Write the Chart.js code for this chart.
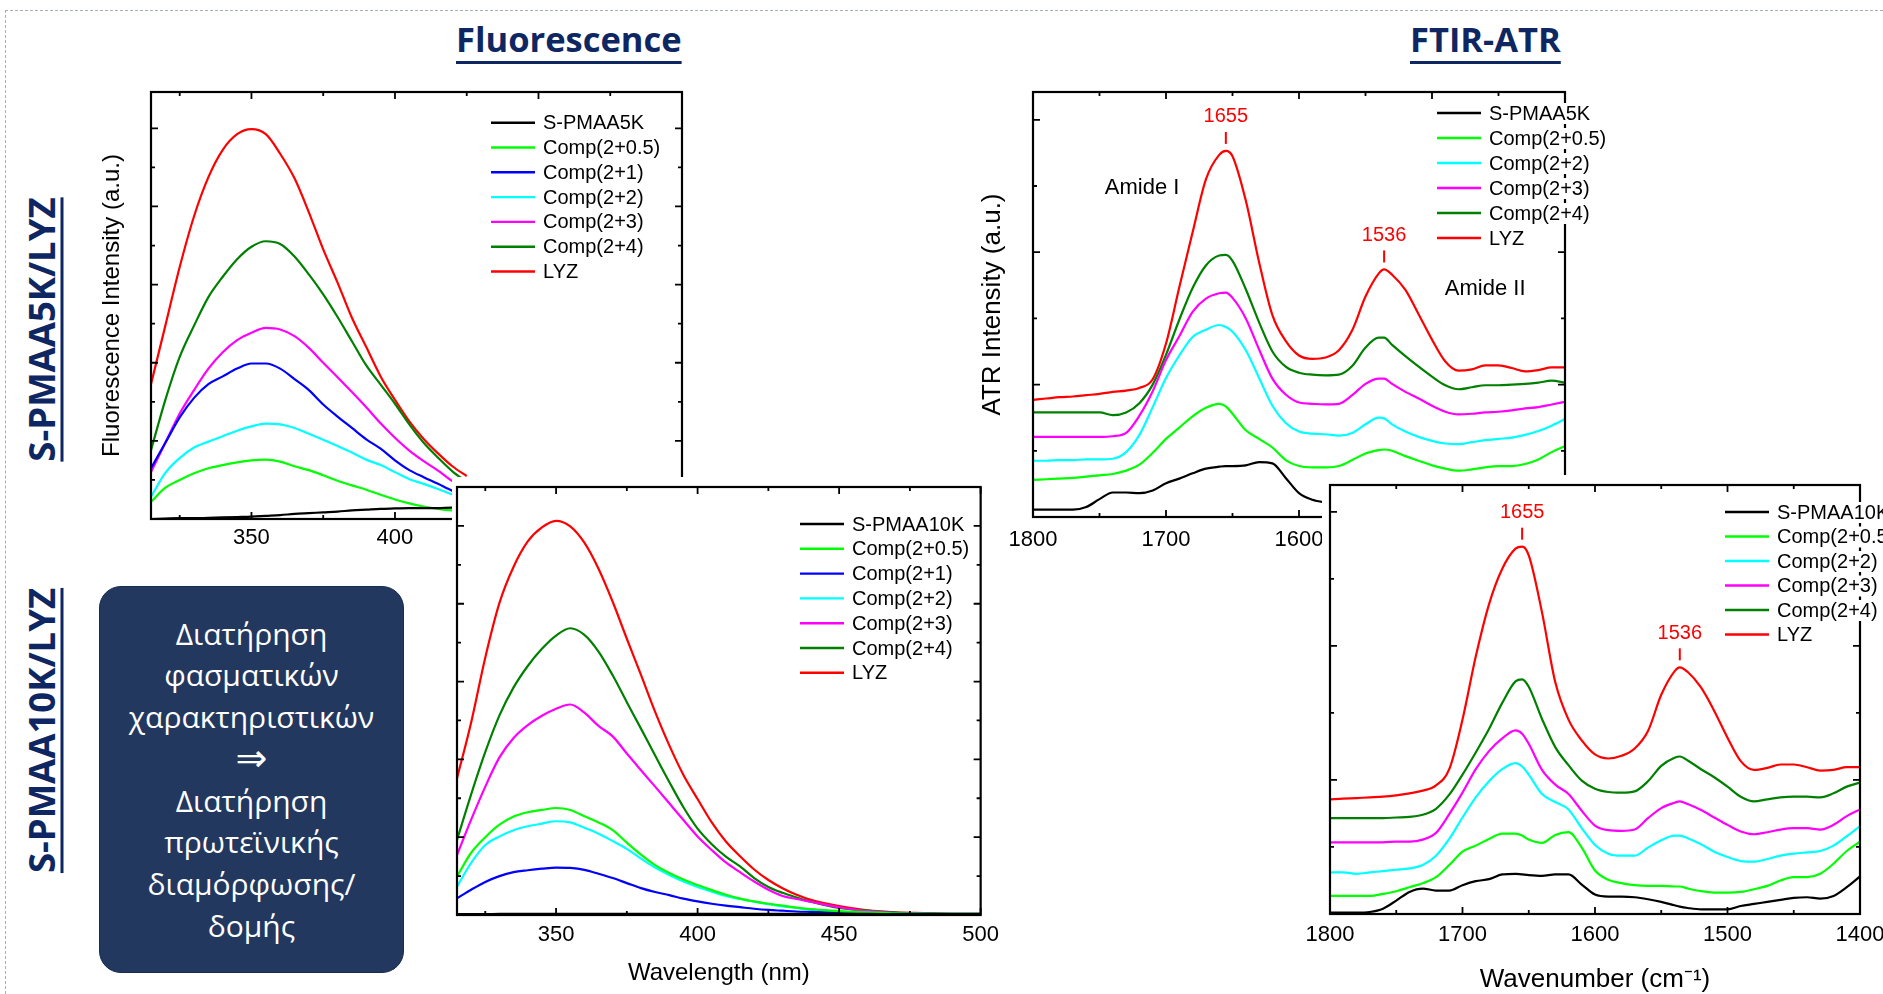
<!DOCTYPE html>
<html lang="el">
<head>
  <meta charset="UTF-8">
  <title>Fluorescence / FTIR-ATR</title>
  <script src="https://cdn.jsdelivr.net/npm/chart.js"></script>
  <style>
    body {
      margin: 0;
      width: 1883px;
      height: 994px;
      overflow: hidden;
      position: relative;
      background: #fff;
      font-family: 'Open Sans', sans-serif;
    }
    .edge-top { position: absolute; left: 5px; top: 10px; width: 1878px; border-top: 1px dashed #a4adbf; }
    .edge-left { position: absolute; left: 5px; top: 10px; height: 984px; border-left: 1px dashed #a4adbf; }
    .heading {
      position: absolute;
      top: 22px;
      font: 700 34.5px/1 'Open Sans', sans-serif;
      color: #0e2763;
      white-space: nowrap;
      text-decoration: underline;
      text-decoration-thickness: 2.5px;
      text-underline-offset: 9px;
    }
    .side {
      position: absolute;
      left: -159.4px;
      width: 400px;
      height: 37px;
      font: 700 36.5px/37px 'Open Sans', sans-serif;
      color: #0e2763;
      text-align: center;
      white-space: nowrap;
      transform: rotate(-90deg);
      text-decoration: underline;
      text-decoration-thickness: 2.5px;
      text-underline-offset: 6px;
    }
    .note {
      position: absolute;
      left: 99px;
      top: 586px;
      width: 305px;
      height: 387px;
      box-sizing: border-box;
      border-radius: 22px;
      background: #22385f;
      border: 1px solid #1a2c4e;
      color: #fff;
      font: 400 30px/41.7px 'Open Sans', sans-serif;
      text-align: center;
      display: flex;
      flex-direction: column;
      justify-content: center;
    }
    .note .arrow { font: 400 38px/41.7px 'DejaVu Sans', sans-serif; }
    canvas { position: absolute; }
  </style>
</head>
<body>
  <div class="edge-top"></div>
  <div class="edge-left"></div>

  <div class="heading" style="left:456px">Fluorescence</div>
  <div class="heading" style="left:1410px">FTIR-ATR</div>

  <div class="side" style="top:310.5px">S-PMAA5K/LYZ</div>
  <div class="side" style="top:711.5px">S-PMAA10K/LYZ</div>

  <div class="note">
    <div>Διατήρηση</div>
    <div>φασματικών</div>
    <div>χαρακτηριστικών</div>
    <div class="arrow">⇒</div>
    <div>Διατήρηση</div>
    <div>πρωτεϊνικής</div>
    <div>διαμόρφωσης/</div>
    <div>δομής</div>
  </div>

  <canvas id="fluo5k" style="left:80px;top:80px;z-index:1" width="632" height="499"></canvas>
  <canvas id="ftir5k" style="left:960px;top:80px;z-index:1" width="660" height="500"></canvas>
  <canvas id="fluo10k" style="left:452px;top:477px;z-index:2" width="554" height="517"></canvas>
  <canvas id="ftir10k" style="left:1295px;top:475px;z-index:2" width="605" height="519"></canvas>

  <script>
    // ---------- series names and colours ----------
    const fluoNames5k = ['S-PMAA5K', 'Comp(2+0.5)', 'Comp(2+1)', 'Comp(2+2)', 'Comp(2+3)', 'Comp(2+4)', 'LYZ'];
    const fluoNames10k = ['S-PMAA10K', 'Comp(2+0.5)', 'Comp(2+1)', 'Comp(2+2)', 'Comp(2+3)', 'Comp(2+4)', 'LYZ'];
    const ftirNames5k = ['S-PMAA5K', 'Comp(2+0.5)', 'Comp(2+2)', 'Comp(2+3)', 'Comp(2+4)', 'LYZ'];
    const ftirNames10k = ['S-PMAA10K', 'Comp(2+0.5)', 'Comp(2+2)', 'Comp(2+3)', 'Comp(2+4)', 'LYZ'];
    const fluoColors = ['#000000', '#00ff00', '#0000ff', '#00ffff', '#ff00ff', '#008000', '#ff0000'];
    const ftirColors = ['#000000', '#00ff00', '#00ffff', '#ff00ff', '#008000', '#ff0000'];

    // ---------- axis ticks ----------
    const fluoTicks = [350, 400, 450, 500];
    const fluoMinorTicks = [325, 375, 425, 475];
    const ftirTicks = [1800, 1700, 1600, 1500, 1400];
    const ftirMinorTicks = [1750, 1650, 1550, 1450];
    const fluoYMajor = [2, 4, 6, 8, 10];
    const fluoYMinor = [1, 3, 5, 7, 9];
    const ftirYMajor = [2, 4, 6];
    const ftirYMinor = [1, 3, 5];
    const ftirPeaks = [1655, 1536];

    // ---------- fluorescence, S-PMAA5K / LYZ (wavelength, nm) ----------
    const wl5k = [315, 320, 325, 330, 335, 340, 345, 350, 355, 360, 365, 370, 375, 380, 385, 390, 395, 400, 405, 410, 415, 420, 425];
    const fl5kPolymer = [0.0, 0.01, 0.02, 0.02, 0.03, 0.04, 0.05, 0.06, 0.08, 0.1, 0.13, 0.15, 0.17, 0.19, 0.22, 0.24, 0.26, 0.27, 0.28, 0.28, 0.28, 0.29, 0.29];
    const fl5kC05 = [0.44, 0.8, 1.0, 1.17, 1.3, 1.38, 1.45, 1.5, 1.52, 1.47, 1.35, 1.25, 1.12, 0.98, 0.86, 0.75, 0.62, 0.5, 0.4, 0.32, 0.26, 0.22, 0.2];
    const fl5kC1 = [1.3, 1.95, 2.6, 3.1, 3.45, 3.65, 3.85, 3.98, 3.98, 3.85, 3.58, 3.3, 2.93, 2.62, 2.33, 2.04, 1.8, 1.5, 1.25, 1.07, 0.9, 0.72, 0.6];
    const fl5kC2 = [0.57, 1.18, 1.56, 1.83, 1.98, 2.12, 2.26, 2.37, 2.44, 2.42, 2.33, 2.18, 2.03, 1.87, 1.7, 1.52, 1.38, 1.2, 1.02, 0.9, 0.77, 0.63, 0.52];
    const fl5kC3 = [1.2, 1.95, 2.7, 3.3, 3.85, 4.27, 4.58, 4.77, 4.89, 4.85, 4.68, 4.38, 4.0, 3.63, 3.25, 2.86, 2.45, 2.08, 1.75, 1.48, 1.24, 0.97, 0.78];
    const fl5kC4 = [1.76, 3.05, 4.15, 4.95, 5.68, 6.2, 6.65, 6.97, 7.11, 7.04, 6.72, 6.26, 5.75, 5.17, 4.55, 3.93, 3.44, 2.95, 2.42, 1.95, 1.57, 1.22, 0.95];
    const fl5kLYZ = [3.45, 4.95, 6.45, 7.75, 8.75, 9.45, 9.85, 9.98, 9.85, 9.35, 8.72, 7.85, 6.9, 6.05, 5.15, 4.4, 3.65, 3.05, 2.5, 2.05, 1.68, 1.35, 1.1];

    // ---------- fluorescence, S-PMAA10K / LYZ ----------
    const wl10k = [315, 320, 325, 330, 335, 340, 345, 350, 355, 360, 365, 370, 375, 380, 385, 390, 395, 400, 405, 410, 415, 420, 425, 430, 435, 440, 450, 460, 470, 480, 490, 500];
    const fl10kPolymer = [0.02, 0.02, 0.02, 0.03, 0.03, 0.03, 0.03, 0.03, 0.03, 0.03, 0.03, 0.03, 0.03, 0.03, 0.03, 0.03, 0.03, 0.03, 0.03, 0.03, 0.03, 0.03, 0.03, 0.03, 0.03, 0.03, 0.03, 0.03, 0.02, 0.02, 0.02, 0.02];
    const fl10kC05 = [0.99, 1.6, 2.0, 2.32, 2.53, 2.64, 2.7, 2.75, 2.7, 2.54, 2.38, 2.18, 1.86, 1.55, 1.28, 1.08, 0.91, 0.77, 0.64, 0.52, 0.42, 0.35, 0.29, 0.24, 0.19, 0.15, 0.1, 0.07, 0.04, 0.03, 0.03, 0.03];
    const fl10kC1 = [0.43, 0.65, 0.85, 1.0, 1.1, 1.15, 1.19, 1.22, 1.21, 1.16, 1.06, 0.95, 0.82, 0.69, 0.59, 0.51, 0.42, 0.35, 0.29, 0.24, 0.2, 0.16, 0.13, 0.11, 0.09, 0.08, 0.06, 0.04, 0.04, 0.03, 0.03, 0.03];
    const fl10kC2 = [0.73, 1.34, 1.8, 2.02, 2.18, 2.28, 2.35, 2.41, 2.38, 2.24, 2.09, 1.9, 1.7, 1.45, 1.22, 1.03, 0.86, 0.72, 0.6, 0.49, 0.41, 0.34, 0.28, 0.22, 0.18, 0.14, 0.09, 0.06, 0.03, 0.03, 0.02, 0.02];
    const fl10kC3 = [1.54, 2.45, 3.3, 4.05, 4.55, 4.88, 5.12, 5.3, 5.41, 5.2, 4.86, 4.59, 4.15, 3.72, 3.3, 2.87, 2.44, 2.02, 1.67, 1.35, 1.1, 0.86, 0.65, 0.49, 0.41, 0.34, 0.2, 0.1, 0.05, 0.03, 0.02, 0.02];
    const fl10kC4 = [1.93, 3.1, 4.19, 5.13, 5.85, 6.4, 6.84, 7.18, 7.37, 7.2, 6.77, 6.16, 5.47, 4.79, 4.1, 3.42, 2.77, 2.22, 1.82, 1.5, 1.25, 0.95, 0.72, 0.57, 0.45, 0.34, 0.18, 0.11, 0.06, 0.04, 0.03, 0.03];
    const fl10kLYZ = [3.51, 4.95, 6.62, 8.02, 8.95, 9.6, 9.96, 10.13, 9.99, 9.57, 8.9, 8.05, 7.1, 6.17, 5.22, 4.36, 3.6, 2.98, 2.38, 1.89, 1.51, 1.17, 0.9, 0.69, 0.52, 0.39, 0.23, 0.12, 0.07, 0.05, 0.03, 0.03];

    // ---------- FTIR-ATR (wavenumber, cm-1), both samples ----------
    const wn = [1800, 1790, 1780, 1770, 1760, 1750, 1740, 1730, 1720, 1710, 1700, 1690, 1680, 1670, 1660, 1655, 1650, 1640, 1630, 1620, 1610, 1600, 1590, 1580, 1570, 1560, 1550, 1540, 1536, 1530, 1520, 1510, 1500, 1490, 1480, 1470, 1460, 1450, 1440, 1430, 1420, 1410, 1400];

    const ir5kPolymer = [0.11, 0.11, 0.11, 0.11, 0.15, 0.27, 0.37, 0.37, 0.36, 0.4, 0.51, 0.58, 0.66, 0.73, 0.76, 0.77, 0.77, 0.78, 0.83, 0.81, 0.59, 0.36, 0.26, 0.22, 0.2];
    const ir5kC05 = [0.56, 0.57, 0.58, 0.59, 0.61, 0.63, 0.65, 0.7, 0.79, 0.97, 1.18, 1.35, 1.52, 1.65, 1.71, 1.67, 1.56, 1.31, 1.18, 1.05, 0.86, 0.77, 0.75, 0.75, 0.77, 0.86, 0.96, 1.01, 1.02, 1.0, 0.92, 0.85, 0.78, 0.73, 0.7, 0.72, 0.75, 0.77, 0.77, 0.8, 0.87, 0.98, 1.07];
    const ir5kC2 = [0.85, 0.85, 0.86, 0.86, 0.87, 0.87, 0.88, 0.98, 1.24, 1.66, 2.1, 2.44, 2.72, 2.83, 2.9, 2.87, 2.8, 2.52, 2.1, 1.68, 1.42, 1.29, 1.26, 1.25, 1.23, 1.27, 1.4, 1.5, 1.49, 1.4, 1.29, 1.21, 1.15, 1.11, 1.1, 1.13, 1.16, 1.18, 1.2, 1.24, 1.3, 1.38, 1.48];
    const ir5kC3 = [1.21, 1.21, 1.21, 1.21, 1.21, 1.21, 1.22, 1.27, 1.53, 1.9, 2.37, 2.73, 3.1, 3.3, 3.38, 3.39, 3.31, 3.0, 2.53, 2.09, 1.85, 1.73, 1.71, 1.7, 1.71, 1.84, 2.01, 2.09, 2.09, 2.01, 1.89, 1.79, 1.68, 1.59, 1.55, 1.56, 1.58, 1.59, 1.61, 1.64, 1.66, 1.7, 1.74];
    const ir5kC4 = [1.58, 1.58, 1.58, 1.58, 1.58, 1.58, 1.54, 1.58, 1.72, 2.0, 2.45, 2.98, 3.46, 3.8, 3.95, 3.96, 3.87, 3.44, 2.94, 2.5, 2.27, 2.18, 2.15, 2.14, 2.15, 2.28, 2.56, 2.71, 2.71, 2.6, 2.43, 2.27, 2.12, 1.99, 1.93, 1.96, 1.99, 1.99, 2.0, 2.01, 2.03, 2.06, 2.03];
    const ir5kLYZ = [1.77, 1.79, 1.81, 1.82, 1.84, 1.86, 1.89, 1.91, 1.95, 2.08, 2.62, 3.47, 4.3, 5.1, 5.47, 5.53, 5.45, 4.78, 3.85, 3.05, 2.66, 2.44, 2.39, 2.41, 2.52, 2.82, 3.33, 3.68, 3.74, 3.66, 3.43, 3.06, 2.68, 2.35, 2.21, 2.23, 2.29, 2.29, 2.25, 2.2, 2.22, 2.26, 2.26];

    const ir10kPolymer = [0.02, 0.02, 0.02, 0.03, 0.08, 0.2, 0.33, 0.38, 0.35, 0.35, 0.43, 0.49, 0.52, 0.59, 0.6, 0.59, 0.58, 0.57, 0.59, 0.59, 0.44, 0.29, 0.26, 0.26, 0.25, 0.22, 0.18, 0.13, 0.11, 0.09, 0.07, 0.07, 0.07, 0.12, 0.15, 0.18, 0.21, 0.24, 0.25, 0.23, 0.27, 0.4, 0.56];
    const ir10kC05 = [0.27, 0.27, 0.27, 0.27, 0.3, 0.34, 0.4, 0.46, 0.55, 0.73, 0.93, 1.02, 1.12, 1.2, 1.2, 1.17, 1.11, 1.06, 1.18, 1.22, 0.99, 0.65, 0.51, 0.46, 0.43, 0.42, 0.42, 0.41, 0.41, 0.38, 0.34, 0.32, 0.32, 0.33, 0.37, 0.42, 0.5, 0.55, 0.55, 0.6, 0.75, 0.94, 1.08];
    const ir10kC2 = [0.62, 0.62, 0.6, 0.62, 0.64, 0.66, 0.68, 0.73, 0.87, 1.12, 1.44, 1.74, 1.98, 2.16, 2.25, 2.2, 2.08, 1.79, 1.67, 1.56, 1.28, 1.03, 0.9, 0.87, 0.87, 0.99, 1.1, 1.17, 1.17, 1.13, 1.04, 0.93, 0.85, 0.79, 0.78, 0.82, 0.87, 0.9, 0.92, 0.94, 1.02, 1.16, 1.31];
    const ir10kC3 = [1.07, 1.07, 1.07, 1.07, 1.07, 1.08, 1.08, 1.11, 1.21, 1.49, 1.81, 2.16, 2.43, 2.62, 2.74, 2.69, 2.54, 2.15, 1.93, 1.79, 1.54, 1.32, 1.25, 1.24, 1.26, 1.43, 1.58, 1.66, 1.68, 1.64, 1.55, 1.44, 1.33, 1.23, 1.19, 1.22, 1.26, 1.28, 1.28, 1.26, 1.33, 1.46, 1.56];
    const ir10kC4 = [1.43, 1.43, 1.43, 1.43, 1.43, 1.44, 1.45, 1.48, 1.57, 1.78, 2.08, 2.41, 2.76, 3.15, 3.47, 3.5, 3.39, 2.91, 2.49, 2.22, 1.99, 1.87, 1.82, 1.81, 1.83, 1.98, 2.21, 2.33, 2.35, 2.29, 2.16, 2.04, 1.9, 1.75, 1.68, 1.71, 1.74, 1.75, 1.75, 1.74, 1.8, 1.9, 1.96];
    const ir10kLYZ = [1.71, 1.72, 1.73, 1.74, 1.75, 1.77, 1.8, 1.84, 1.92, 2.16, 2.9, 3.84, 4.62, 5.15, 5.45, 5.48, 5.35, 4.5, 3.46, 2.9, 2.59, 2.38, 2.32, 2.36, 2.47, 2.73, 3.27, 3.62, 3.68, 3.61, 3.38, 3.03, 2.63, 2.28, 2.15, 2.18, 2.23, 2.23, 2.19, 2.14, 2.15, 2.19, 2.19];

    const FONT = '"Liberation Sans", Arial, sans-serif';
    Chart.defaults.font.family = FONT;
    Chart.defaults.color = '#000';

    // frame, inward ticks, in-plot legend and peak labels (Origin style)
    const plotDecor = {
      id: 'plotDecor',
      beforeDraw(chart, args, o) {
        if (o.coverX === undefined || o.coverX === null) return;
        const c = chart.ctx;
        c.save();
        c.fillStyle = '#fff';
        c.fillRect(o.coverX, 0, chart.width - o.coverX, chart.height);
        c.restore();
      },
      afterDatasetsDraw(chart, args, o) {
        const c = chart.ctx, a = chart.chartArea;
        const xs = chart.scales.x, ys = chart.scales.y;
        c.save();
        c.strokeStyle = '#000';
        c.lineWidth = 1.8;
        const xMarks = (vals, len) => vals.forEach(v => {
          const px = xs.getPixelForValue(v);
          c.beginPath();
          c.moveTo(px, a.bottom); c.lineTo(px, a.bottom - len);
          c.moveTo(px, a.top); c.lineTo(px, a.top + len);
          c.stroke();
        });
        const yMarks = (vals, len) => vals.forEach(v => {
          const py = ys.getPixelForValue(v);
          c.beginPath();
          c.moveTo(a.left, py); c.lineTo(a.left + len, py);
          c.moveTo(a.right, py); c.lineTo(a.right - len, py);
          c.stroke();
        });
        xMarks(o.xMajor, 7); xMarks(o.xMinor, 4);
        yMarks(o.yMajor, 7); yMarks(o.yMinor, 4);
        c.lineWidth = 2.2;
        c.strokeRect(a.left, a.top, a.right - a.left, a.bottom - a.top);
        c.restore();
      },
      afterDraw(chart, args, o) {
        const c = chart.ctx, a = chart.chartArea;
        const xs = chart.scales.x, ys = chart.scales.y;
        c.save();
        // legend; each label sits on its own white box, hiding the frame behind it
        c.font = '20px ' + FONT;
        c.textBaseline = 'middle';
        c.textAlign = 'left';
        chart.data.datasets.forEach((ds, i) => {
          const lx = a.left + o.legend.x;
          const ly = a.top + o.legend.y + i * o.legend.row;
          const tx = lx + 52;
          const w = c.measureText(ds.label).width;
          c.fillStyle = '#fff';
          c.fillRect(tx - 1, ly - 10, w + 2, 21);
          c.strokeStyle = ds.borderColor;
          c.lineWidth = 2.4;
          c.beginPath(); c.moveTo(lx, ly); c.lineTo(lx + 44, ly); c.stroke();
          c.fillStyle = '#000';
          c.fillText(ds.label, tx, ly + 1);
        });
        // peak positions on the LYZ curve
        if (o.peaks) {
          const lyz = chart.data.datasets[chart.data.datasets.length - 1].data;
          c.strokeStyle = '#ff0000';
          c.fillStyle = '#ff0000';
          c.lineWidth = 2;
          c.textAlign = 'center';
          o.peaks.forEach(v => {
            const pt = lyz.find(p => p.x === v);
            const px = xs.getPixelForValue(v), py = ys.getPixelForValue(pt.y);
            c.beginPath(); c.moveTo(px, py - 7); c.lineTo(px, py - 19); c.stroke();
            c.fillText(String(v), px, py - 34);
          });
        }
        // band names
        if (o.notes) {
          c.fillStyle = '#000';
          c.font = '22px ' + FONT;
          c.textAlign = 'center';
          o.notes.forEach(n => c.fillText(n.text, xs.getPixelForValue(n.x), ys.getPixelForValue(n.y)));
        }
        c.restore();
      }
    };

    function makeChart(id, cfg) {
      const datasets = cfg.series.map((ys, i) => ({
        label: cfg.names[i],
        data: ys.map((v, j) => ({ x: cfg.xs[j], y: v })),
        borderColor: cfg.colors[i],
        borderWidth: 2.2,
        pointRadius: 0,
        fill: false,
        cubicInterpolationMode: 'monotone'
      }));
      const pad = cfg.pad;
      return new Chart(document.getElementById(id), {
        type: 'line',
        data: { datasets },
        options: {
          responsive: false,
          animation: false,
          devicePixelRatio: 1,
          layout: { autoPadding: false, padding: { left: 0, top: pad.t, right: pad.r, bottom: 0 } },
          scales: {
            x: {
              type: 'linear',
              min: cfg.xMin,
              max: cfg.xMax,
              reverse: cfg.reverse,
              grid: { display: false, drawTicks: false },
              border: { display: false },
              ticks: {
                font: { size: 22 },
                color: '#000',
                padding: cfg.tickPad,
                maxRotation: 0,
                autoSkip: false,
                callback: v => String(v)
              },
              afterBuildTicks: s => { s.ticks = cfg.xTicks.map(v => ({ value: v })); },
              afterFit: s => { s.height = pad.b; },
              title: cfg.xTitle ? {
                display: true,
                text: cfg.xTitle,
                color: '#000',
                font: { size: cfg.titleSize },
                padding: { top: 0, bottom: cfg.xTitlePad }
              } : { display: false }
            },
            y: {
              type: 'linear',
              min: 0,
              max: cfg.yMax,
              grid: { display: false, drawTicks: false },
              border: { display: false },
              ticks: { display: false },
              afterFit: s => { s.width = pad.l; },
              title: cfg.yTitle ? {
                display: true,
                text: cfg.yTitle,
                color: '#000',
                font: { size: cfg.titleSize },
                padding: { top: cfg.yTitlePad, bottom: 0 }
              } : { display: false }
            }
          },
          plugins: {
            legend: { display: false },
            tooltip: { enabled: false },
            plotDecor: {
              coverX: cfg.coverX,
              xMajor: cfg.xTicks,
              xMinor: cfg.xMinor,
              yMajor: cfg.yMajor,
              yMinor: cfg.yMinor,
              legend: cfg.legend,
              peaks: cfg.peaks,
              notes: cfg.notes
            }
          }
        },
        plugins: [plotDecor]
      });
    }

    makeChart('fluo5k', {
      xs: wl5k,
      series: [fl5kPolymer, fl5kC05, fl5kC1, fl5kC2, fl5kC3, fl5kC4, fl5kLYZ],
      names: fluoNames5k, colors: fluoColors,
      xMin: 315, xMax: 500, reverse: false, yMax: 10.93,
      xTicks: fluoTicks, xMinor: fluoMinorTicks, yMajor: fluoYMajor, yMinor: fluoYMinor,
      pad: { l: 71, t: 12, r: 30, b: 60 }, tickPad: 6,
      yTitle: 'Fluorescence Intensity (a.u.)', yTitlePad: 17.6, titleSize: 24,
      legend: { x: 340, y: 30.7, row: 24.8 }
    });

    makeChart('fluo10k', {
      xs: wl10k,
      series: [fl10kPolymer, fl10kC05, fl10kC1, fl10kC2, fl10kC3, fl10kC4, fl10kLYZ],
      names: fluoNames10k, colors: fluoColors,
      xMin: 315, xMax: 500, reverse: false, yMax: 11.0,
      xTicks: fluoTicks, xMinor: fluoMinorTicks, yMajor: fluoYMajor, yMinor: fluoYMinor,
      pad: { l: 5, t: 10, r: 20, b: 79 }, tickPad: 7,
      xTitle: 'Wavelength (nm)', xTitlePad: 6.6, titleSize: 24,
      coverX: 0,
      legend: { x: 343, y: 37, row: 24.8 }
    });

    makeChart('ftir5k', {
      xs: wn,
      series: [ir5kPolymer, ir5kC05, ir5kC2, ir5kC3, ir5kC4, ir5kLYZ],
      names: ftirNames5k, colors: ftirColors,
      xMin: 1400, xMax: 1800, reverse: true, yMax: 6.42,
      xTicks: ftirTicks, xMinor: ftirMinorTicks, yMajor: ftirYMajor, yMinor: ftirYMinor,
      pad: { l: 73, t: 12, r: 55, b: 63 }, tickPad: 10,
      yTitle: 'ATR Intensity (a.u.)', yTitlePad: 17.4, titleSize: 26,
      legend: { x: 404, y: 21, row: 25 },
      peaks: ftirPeaks,
      notes: [{ text: 'Amide I', x: 1718, y: 4.97 }, { text: 'Amide II', x: 1460, y: 3.45 }]
    });

    makeChart('ftir10k', {
      xs: wn,
      series: [ir10kPolymer, ir10kC05, ir10kC2, ir10kC3, ir10kC4, ir10kLYZ],
      names: ftirNames10k, colors: ftirColors,
      xMin: 1400, xMax: 1800, reverse: true, yMax: 6.4,
      xTicks: ftirTicks, xMinor: ftirMinorTicks, yMajor: ftirYMajor, yMinor: ftirYMinor,
      pad: { l: 35, t: 10, r: 40, b: 80 }, tickPad: 8,
      xTitle: 'Wavenumber (cm⁻¹)', xTitlePad: -1.6, titleSize: 26,
      coverX: 27,
      legend: { x: 395, y: 27, row: 24.5 },
      peaks: ftirPeaks
    });
  </script>
</body>
</html>
